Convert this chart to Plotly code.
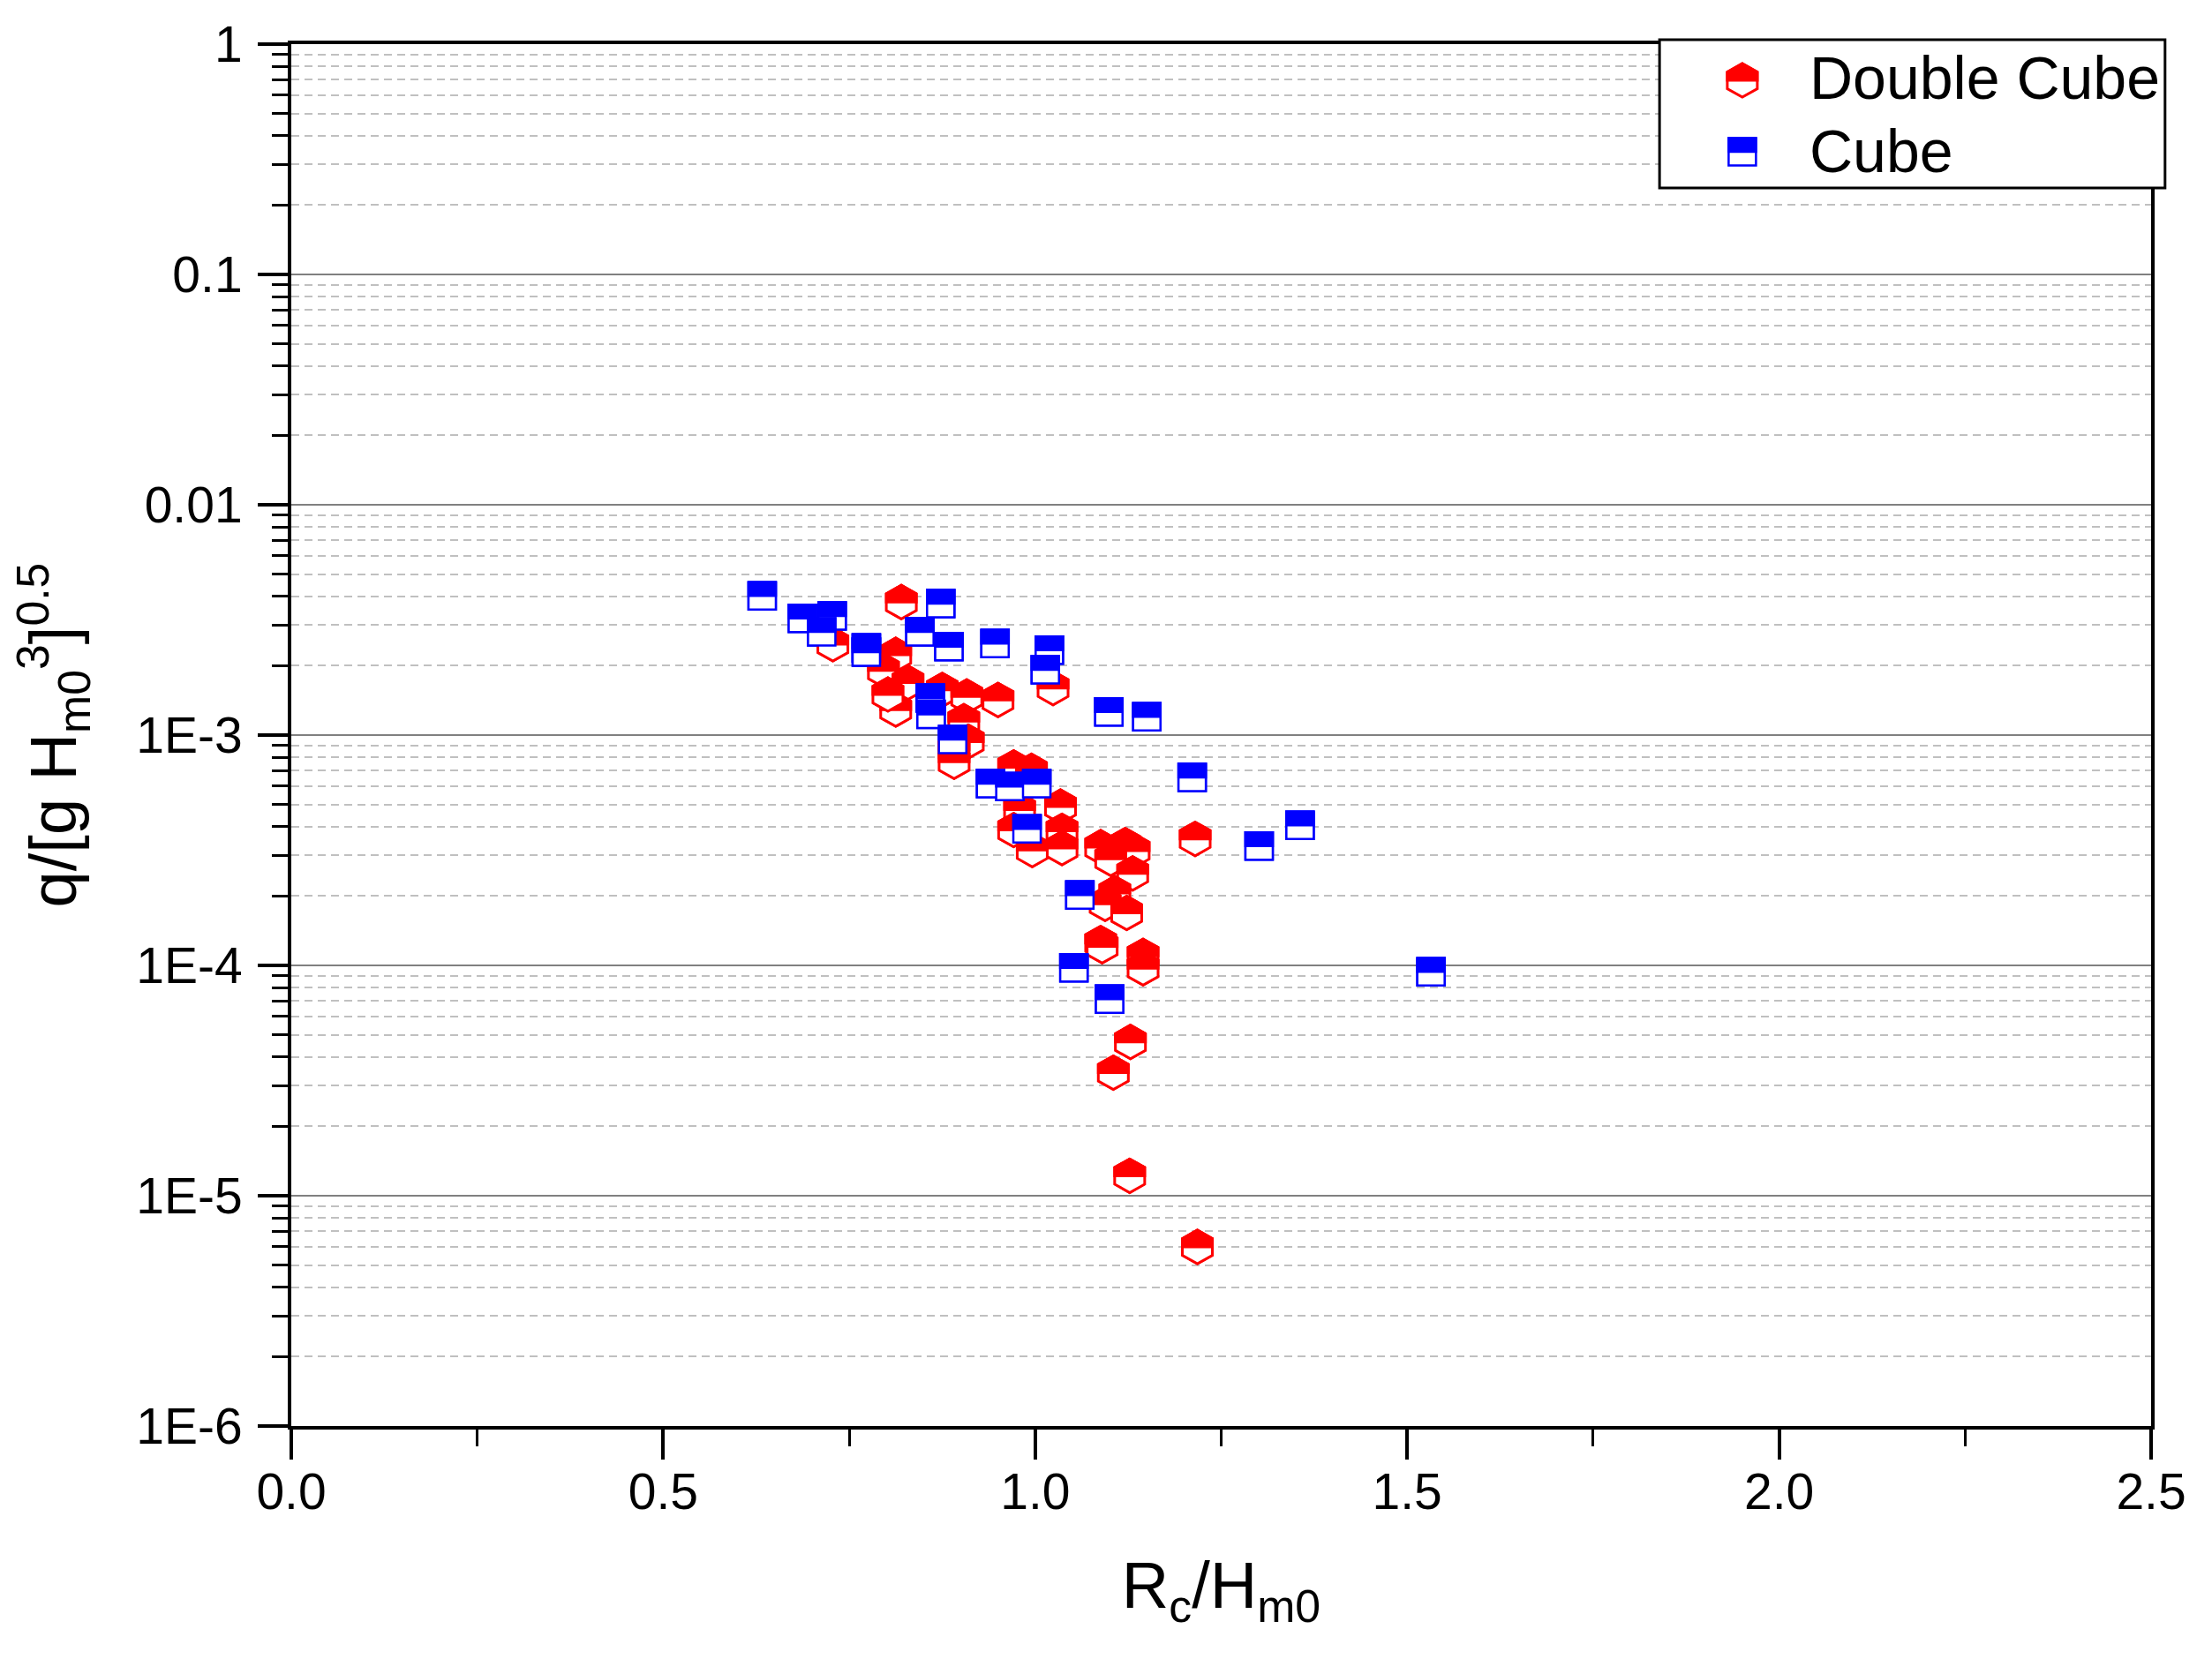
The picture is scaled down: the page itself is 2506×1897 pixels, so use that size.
import plotly.graph_objects as go

# Double Cube (red half-filled hexagons)
dc_x = [0.820, 0.728, 0.8125, 0.796, 0.829, 0.8125, 0.802, 0.875, 0.908, 0.950,
        0.904, 0.910, 0.891, 0.891, 1.024, 0.971, 0.995, 1.034, 1.036, 1.036,
        0.996, 0.979, 0.971, 1.088, 1.121, 1.133, 1.1015, 1.131, 1.107, 1.094,
        1.123, 1.088, 1.090, 1.145, 1.145, 1.128, 1.105, 1.215, 1.127, 1.218]
dc_y = [3.78e-3, 2.48e-3, 2.23e-3, 1.91e-3, 1.69e-3, 1.29e-3, 1.50e-3, 1.57e-3, 1.47e-3, 1.42e-3,
        1.15e-3, 9.37e-4, 8.61e-4, 7.65e-4, 1.60e-3, 7.24e-4, 6.99e-4, 4.89e-4, 3.84e-4, 3.23e-4,
        3.17e-4, 4.74e-4, 3.87e-4, 3.26e-4, 3.33e-4, 3.15e-4, 2.90e-4, 2.51e-4, 2.06e-4, 1.85e-4,
        1.69e-4, 1.25e-4, 1.21e-4, 1.10e-4, 9.71e-5, 4.65e-5, 3.42e-5, 3.54e-4, 1.22e-5, 5.99e-6]

# Cube (blue half-filled squares)
cube_x = [0.633, 0.687, 0.727, 0.713, 0.773, 0.773, 0.873, 0.845, 0.884, 0.946,
          1.019, 1.0136, 0.859, 0.860, 0.889, 1.099, 1.150, 1.211, 0.940, 0.966,
          1.002, 0.989, 1.060, 1.052, 1.100, 1.301, 1.356, 1.532]
cube_y = [4.02e-3, 3.21e-3, 3.29e-3, 2.81e-3, 2.39e-3, 2.29e-3, 3.72e-3, 2.81e-3, 2.42e-3, 2.50e-3,
          2.34e-3, 1.92e-3, 1.45e-3, 1.23e-3, 9.57e-4, 1.26e-3, 1.20e-3, 6.55e-4, 6.15e-4, 5.98e-4,
          6.15e-4, 3.92e-4, 2.02e-4, 9.77e-5, 7.13e-5, 3.30e-4, 4.06e-4, 9.38e-5]

series_names = ["Double Cube", "Cube"]

y_tickvals = [1e-6, 1e-5, 1e-4, 1e-3, 1e-2, 1e-1, 1]
y_ticktext = ["1E-6", "1E-5", "1E-4", "1E-3", "0.01", "0.1", "1"]
x_tickvals = [0.0, 0.5, 1.0, 1.5, 2.0, 2.5]
x_ticktext = ["0.0", "0.5", "1.0", "1.5", "2.0", "2.5"]
x_minor = [0.25, 0.75, 1.25, 1.75, 2.25]
y_minor = [m * 10.0 ** e for e in range(-6, 0) for m in range(2, 10)]

RED = "#ff0000"
BLUE = "#0000ff"
FONT = "Liberation Sans, Arial, sans-serif"

# marker geometry in pixels (half height / half width)
HR, HW = 19, 17
SQ = 15.5
HEX_FULL = f"M 0,{HR} L {HW},{HR/2} L {HW},{-HR/2} L 0,{-HR} L {-HW},{-HR/2} L {-HW},{HR/2} Z"
HEX_TOP = f"M {-HW},0 L {-HW},{HR/2} L 0,{HR} L {HW},{HR/2} L {HW},0 Z"
SQ_FULL = f"M {-SQ},{-SQ} L {-SQ},{SQ} L {SQ},{SQ} L {SQ},{-SQ} Z"
SQ_TOP = f"M {-SQ},0 L {-SQ},{SQ} L {SQ},{SQ} L {SQ},0 Z"


def half_filled(xs, ys, color, full_path, top_path, lw, xref="x", yref="y"):
    """White marker with outline, upper half filled (Origin 'half up' style)."""
    out = []
    for x, y in zip(xs, ys):
        base = dict(type="path", xref=xref, yref=yref,
                    xsizemode="pixel", ysizemode="pixel",
                    xanchor=x, yanchor=y, layer="above")
        out.append(dict(base, path=full_path, fillcolor="white",
                        line=dict(color=color, width=lw)))
        out.append(dict(base, path=top_path, fillcolor=color,
                        line=dict(color=color, width=lw)))
    return out


fig = go.Figure()
fig.add_trace(go.Scatter(
    x=dc_x, y=dc_y, mode="markers", name=series_names[0], showlegend=False,
    marker=dict(symbol="hexagon", size=38, color="white",
                line=dict(color=RED, width=3)),
))
fig.add_trace(go.Scatter(
    x=cube_x, y=cube_y, mode="markers", name=series_names[1], showlegend=False,
    marker=dict(symbol="square", size=31, color="white",
                line=dict(color=BLUE, width=2.5)),
))

shapes = []
shapes += half_filled(dc_x, dc_y, RED, HEX_FULL, HEX_TOP, 3)
shapes += half_filled(cube_x, cube_y, BLUE, SQ_FULL, SQ_TOP, 2.5)

# legend box, drawn by hand so the glyphs keep the half-filled look
shapes.append(dict(type="rect", xref="paper", yref="paper",
                   x0=0.7357, x1=1.0075, y0=0.8959, y1=1.0032,
                   fillcolor="white", line=dict(color="black", width=3),
                   layer="above"))
shapes += half_filled([0.7802], [0.9738], RED, HEX_FULL, HEX_TOP, 3,
                      xref="paper", yref="paper")
shapes += half_filled([0.7802], [0.9221], BLUE, SQ_FULL, SQ_TOP, 2.5,
                      xref="paper", yref="paper")

annotations = [
    dict(text=series_names[0], x=0.8152, y=0.9757, xref="paper", yref="paper",
         xanchor="left", yanchor="middle", showarrow=False,
         font=dict(family=FONT, size=68, color="black")),
    dict(text=series_names[1], x=0.8152, y=0.9227, xref="paper", yref="paper",
         xanchor="left", yanchor="middle", showarrow=False,
         font=dict(family=FONT, size=68, color="black")),
]

fig.update_layout(
    template="none",
    width=2490, height=1881,
    margin=dict(l=322, r=61, t=42, b=273, pad=0),
    paper_bgcolor="white", plot_bgcolor="white",
    font=dict(family=FONT, color="black", size=56),
    showlegend=False,
    shapes=shapes,
    annotations=annotations,
)

axis_common = dict(
    showline=True, linecolor="black", linewidth=4, mirror=True,
    ticks="outside", ticklen=34, tickwidth=4, tickcolor="black",
    tickfont=dict(family=FONT, size=57, color="black"),
    zeroline=False, automargin=False,
)

fig.update_xaxes(
    **axis_common,
    range=[0, 2.5], tickmode="array", tickvals=x_tickvals, ticktext=x_ticktext,
    showgrid=False, ticklabelstandoff=-12,
    minor=dict(tickmode="array", tickvals=x_minor, ticks="outside", ticklen=19,
               tickwidth=3, tickcolor="black", showgrid=False),
    title=dict(text="R<sub>c</sub>/H<sub>m0</sub>", standoff=50,
               font=dict(family=FONT, size=74, color="black")),
)
fig.update_yaxes(
    **axis_common,
    type="log", range=[-6, 0], tickmode="array",
    tickvals=y_tickvals, ticktext=y_ticktext,
    showgrid=True, gridcolor="#808080", gridwidth=2, ticklabelstandoff=6,
    minor=dict(tickmode="array", tickvals=y_minor, ticks="outside", ticklen=18,
               tickwidth=3, tickcolor="black", showgrid=True,
               gridcolor="#c0c0c0", gridwidth=2, griddash="9px,6px"),
    title=dict(text="q/[g H<sub>m0</sub><sup>3</sup>]<sup>0.5</sup>", standoff=50,
               font=dict(family=FONT, size=74, color="black")),
)

fig.write_html("out.html")
